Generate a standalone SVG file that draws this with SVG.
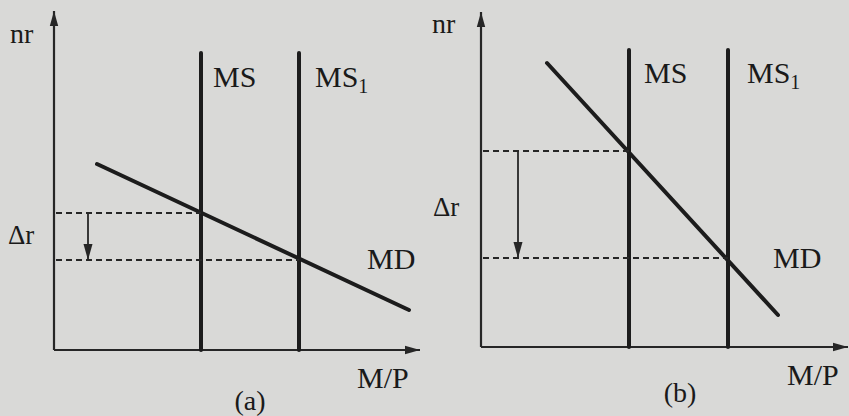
<svg xmlns="http://www.w3.org/2000/svg" width="849" height="416" viewBox="0 0 849 416">
<style>
  .bg { fill: #d9d9d7; }
  .axis { stroke: #262626; stroke-width: 2.2; fill: none; }
  .curve { stroke: #1c1c1c; stroke-width: 4; fill: none; stroke-linecap: round; }
  .dash { stroke: #262626; stroke-width: 1.8; stroke-dasharray: 6 4; fill: none; }
  .shift { stroke: #262626; stroke-width: 1.8; fill: none; }
  .lbl { font-family: "Liberation Serif", "DejaVu Serif", serif; fill: #1a1a1a; font-size: 30px; }
  .sub { font-size: 20px; }
  .small { font-size: 28px; }
  .delta { font-size: 27px; }
</style>
<defs>
  <marker id="axhead" markerUnits="userSpaceOnUse" markerWidth="16" markerHeight="10" refX="15" refY="5" orient="auto">
    <path d="M0,0.8 L15,5 L0,9.2 Z" fill="#262626"/>
  </marker>
  <marker id="shead" markerUnits="userSpaceOnUse" markerWidth="17" markerHeight="10" refX="16" refY="5" orient="auto">
    <path d="M0,0.5 L16,5 L0,9.5 Z" fill="#262626"/>
  </marker>
</defs>
<rect class="bg" x="0" y="0" width="849" height="416"/>

<!-- Panel (a) -->
<g id="axes-a">
  <line class="axis" x1="54" y1="350" x2="54" y2="11" marker-end="url(#axhead)"/>
  <line class="axis" x1="54" y1="350" x2="420" y2="350" marker-end="url(#axhead)"/>
  <text class="lbl small" x="10" y="43">nr</text>
  <text class="lbl" x="357" y="388">M/P</text>
  <text class="lbl small" x="250" y="410" text-anchor="middle">(a)</text>
</g>
<g id="ms-a">
  <line class="curve" x1="201" y1="53" x2="201" y2="350" stroke-linecap="butt"/>
  <text class="lbl" x="213" y="87">MS</text>
</g>
<g id="ms1-a">
  <line class="curve" x1="299" y1="53" x2="299" y2="350" stroke-linecap="butt"/>
  <text class="lbl" x="315" y="87">MS<tspan class="sub" dy="6">1</tspan></text>
</g>
<g id="md-a">
  <line class="curve" x1="97" y1="164" x2="409" y2="310"/>
  <text class="lbl" x="367" y="269">MD</text>
</g>
<g id="dr-a">
  <text class="lbl delta" x="8" y="244">Δr</text>
</g>

<!-- Panel (b) -->
<g id="axes-b">
  <line class="axis" x1="481" y1="347" x2="481" y2="12" marker-end="url(#axhead)"/>
  <line class="axis" x1="481" y1="347" x2="848" y2="347" marker-end="url(#axhead)"/>
  <text class="lbl small" x="432" y="33">nr</text>
  <text class="lbl" x="787" y="385">M/P</text>
  <text class="lbl small" x="680" y="402" text-anchor="middle">(b)</text>
</g>
<g id="ms-b">
  <line class="curve" x1="629" y1="50" x2="629" y2="347" stroke-linecap="butt"/>
  <text class="lbl" x="644" y="83">MS</text>
</g>
<g id="ms1-b">
  <line class="curve" x1="728" y1="50" x2="728" y2="347" stroke-linecap="butt"/>
  <text class="lbl" x="747" y="83">MS<tspan class="sub" dy="6">1</tspan></text>
</g>
<g id="md-b">
  <line class="curve" x1="547" y1="63" x2="778" y2="315"/>
  <text class="lbl" x="773" y="268">MD</text>
</g>
<g id="dr-b">
  <text class="lbl delta" x="433" y="216">Δr</text>
</g>

<!-- Connectors: dashed guide lines and shift arrows -->
<g id="connectors">
  <line class="dash" x1="56" y1="213" x2="201" y2="213"/>
  <line class="dash" x1="56" y1="260" x2="299" y2="260"/>
  <line class="shift" x1="88" y1="213" x2="88" y2="260" marker-end="url(#shead)"/>
  <line class="dash" x1="483" y1="151" x2="629" y2="151"/>
  <line class="dash" x1="483" y1="258" x2="728" y2="258"/>
  <line class="shift" x1="518" y1="151" x2="518" y2="258" marker-end="url(#shead)"/>
</g>
</svg>
